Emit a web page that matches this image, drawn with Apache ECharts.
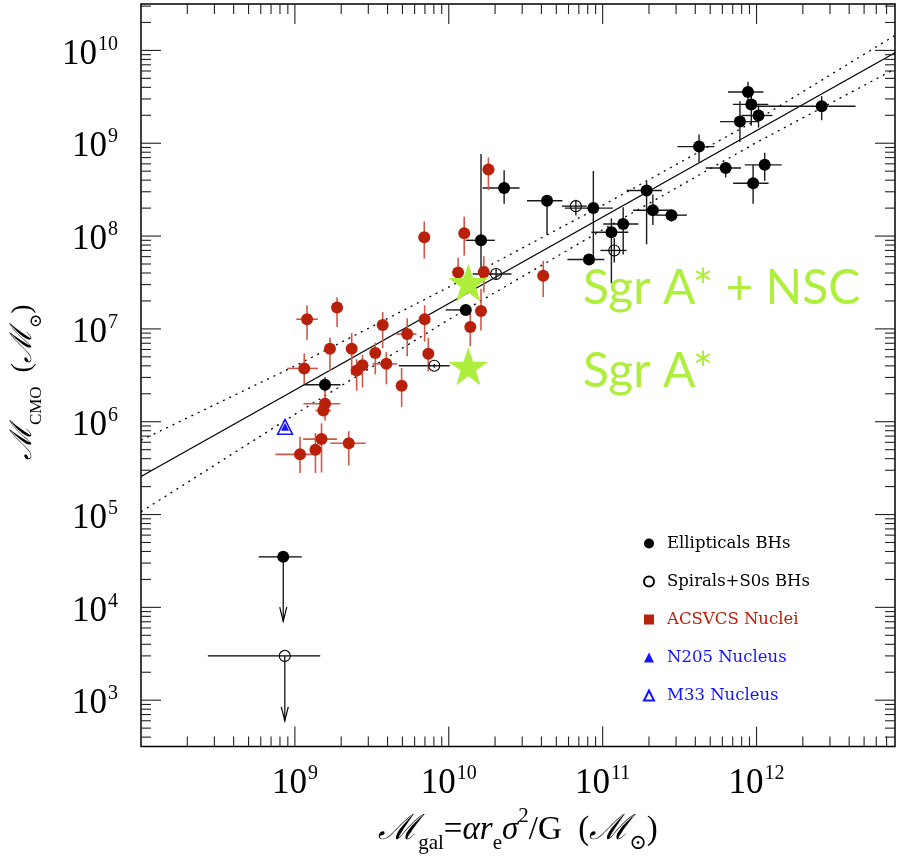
<!DOCTYPE html>
<html>
<head>
<meta charset="utf-8">
<script src="https://cdn.jsdelivr.net/npm/echarts@6/dist/echarts.min.js"></script>
<style>
  html, body { margin: 0; padding: 0; background: #fff; }
  #container { width: 907px; height: 859px; }
</style>
</head>
<body>
<div id="container"></div>
<script>
var dom = document.getElementById('container');
var myChart = echarts.init(dom, null, { renderer: 'canvas' });

// axis ranges (solar masses)
const xMin = 1e8, xMax = 7.94e12;
const yMin = 316.2, yMax = 3.162e10;

// [M_gal, M_CMO, dex errors: x low, x high, y low, y high]
const ellipticals = [
  [1.57e9, 2.5e6, 0.14, 0.10, 0.08, 0.08],
  [1.29e10, 1.6e7, 0.13, 0.0, 0.0, 0.0],
  [1.62e10, 9.0e7, 0.10, 0.09, 0.45, 0.93],
  [2.29e10, 3.3e8, 0.14, 0.10, 0.17, 0.19],
  [4.35e10, 2.4e8, 0.13, 0.10, 0.37, 0.02],
  [8.7e10, 2.0e8, 0.185, 0.127, 0.54, 0.40],
  [8.15e10, 5.6e7, 0.14, 0.10, 0.03, 0.03],
  [1.14e11, 1.1e8, 0.13, 0.11, 0.55, 0.15],
  [1.36e11, 1.35e8, 0.13, 0.10, 0.33, 0.18],
  [1.93e11, 3.1e8, 0.13, 0.10, 0.58, 0.09],
  [2.12e11, 1.9e8, 0.13, 0.11, 0.16, 0.17],
  [2.8e11, 1.68e8, 0.10, 0.10, 0.07, 0.05],
  [4.23e11, 9.2e8, 0.14, 0.10, 0.17, 0.13],
  [6.3e11, 5.4e8, 0.13, 0.10, 0.10, 0.06],
  [7.8e11, 1.71e9, 0.13, 0.12, 0.22, 0.22],
  [8.8e11, 3.56e9, 0.13, 0.10, 0.11, 0.11],
  [9.25e11, 2.62e9, 0.12, 0.11, 0.23, 0.14],
  [1.03e12, 1.99e9, 0.11, 0.09, 0.13, 0.11],
  [2.65e12, 2.5e9, 0.42, 0.22, 0.15, 0.11],
  [1.13e12, 5.85e8, 0.13, 0.11, 0.17, 0.13],
  [9.5e11, 3.7e8, 0.13, 0.10, 0.22, 0.20]
];
const spirals = [
  [6.7e10, 2.1e8, 0.09, 0.07, 0.10, 0.07],
  [1.19e11, 7.0e7, 0.09, 0.08, 0.13, 0.13],
  [2.03e10, 3.9e7, 0.14, 0.10, 0.06, 0.06],
  [8.05e9, 4.0e6, 0.23, 0.10, 0.02, 0.02]
];
// upper limits: [M_gal, M_CMO, dex x low, dex x high, arrow end]
const ellipticalLimits = [[8.4e8, 3.5e4, 0.16, 0.12, 7.1e3]];
const spiralLimits = [[8.6e8, 3.0e3, 0.50, 0.23, 600]];

const acsvcs = [
  [1.2e9, 1.27e7, 0.07, 0.07, 0.22, 0.15],
  [1.88e9, 1.7e7, 0.03, 0.03, 0.21, 0.11],
  [1.15e9, 3.75e6, 0.11, 0.09, 0.17, 0.16],
  [1.69e9, 6.1e6, 0.02, 0.02, 0.24, 0.12],
  [2.34e9, 6.1e6, 0.02, 0.02, 0.28, 0.17],
  [2.75e9, 4.06e6, 0.02, 0.02, 0.24, 0.11],
  [2.52e9, 3.57e6, 0.02, 0.02, 0.22, 0.12],
  [3.33e9, 5.5e6, 0.02, 0.02, 0.23, 0.11],
  [3.72e9, 1.1e7, 0.02, 0.02, 0.25, 0.14],
  [3.93e9, 4.2e6, 0.09, 0.07, 0.22, 0.13],
  [4.94e9, 2.44e6, 0.02, 0.02, 0.23, 0.19],
  [5.37e9, 8.8e6, 0.07, 0.06, 0.24, 0.17],
  [6.97e9, 1.27e7, 0.02, 0.02, 0.24, 0.15],
  [7.36e9, 5.4e6, 0.02, 0.02, 0.19, 0.17],
  [1.57e9, 1.56e6, 0.14, 0.10, 0.18, 0.18],
  [1.53e9, 1.32e6, 0.05, 0.05, 0.05, 0.05],
  [1.49e9, 6.5e5, 0.12, 0.10, 0.36, 0.17],
  [1.36e9, 4.98e5, 0.02, 0.02, 0.25, 0.18],
  [1.08e9, 4.45e5, 0.16, 0.11, 0.20, 0.19],
  [2.24e9, 5.86e5, 0.12, 0.11, 0.24, 0.13],
  [1.81e10, 5.2e8, 0.03, 0.04, 0.22, 0.13],
  [6.93e9, 9.7e7, 0.02, 0.02, 0.23, 0.17],
  [1.26e10, 1.07e8, 0.02, 0.02, 0.24, 0.18],
  [1.15e10, 4.05e7, 0.02, 0.02, 0.10, 0.16],
  [1.69e10, 4.1e7, 0.02, 0.02, 0.22, 0.17],
  [4.11e10, 3.73e7, 0.03, 0.03, 0.23, 0.16],
  [1.62e10, 1.56e7, 0.02, 0.02, 0.21, 0.24],
  [1.38e10, 1.05e7, 0.02, 0.02, 0.21, 0.16]
];
const n205 = [[8.63e8, 8.8e5]];
const m33 = [[8.63e8, 8.8e5]];
const sgrA = [[1.34e10, 3.97e6]];
const sgrANsc = [[1.34e10, 3.16e7]];

// fit and its band
const fitLine = [[1e8, 2.57e5], [7.94e12, 9.44e9]];
const bandUpper = [[1e8, 6.31e5], [1e9, 3.98e6], [1e10, 2.82e7], [1e11, 2.14e8], [1e12, 1.78e9], [7.94e12, 1.45e10]];
const bandLower = [[1e8, 1.07e5], [1e9, 1.2e6], [1e10, 1.26e7], [1e11, 1.17e8], [1e12, 1.02e9], [7.94e12, 6.31e9]];

const legendNames = ['Ellipticals BHs', 'Spirals+S0s BHs', 'ACSVCS Nuclei', 'N205 Nucleus', 'M33 Nucleus'];

const red = '#b8200a';
const blue = '#1414ff';
const lime = '#adef3c';
const serif = "'Liberation Serif', 'DejaVu Serif', serif";

function withBars(rows) {
  return rows.map(r => [r[0], r[1],
    r[0] / Math.pow(10, r[2]), r[0] * Math.pow(10, r[3]),
    r[1] / Math.pow(10, r[4]), r[1] * Math.pow(10, r[5])]);
}

function errRender(color, width) {
  return function (params, api) {
    const c = api.coord([api.value(0), api.value(1)]);
    const xl = api.coord([api.value(2), api.value(1)])[0];
    const xh = api.coord([api.value(3), api.value(1)])[0];
    const yl = api.coord([api.value(0), api.value(4)])[1];
    const yh = api.coord([api.value(0), api.value(5)])[1];
    const st = { stroke: color, lineWidth: width };
    return {
      type: 'group',
      children: [
        { type: 'line', shape: { x1: xl, y1: c[1], x2: xh, y2: c[1] }, style: st },
        { type: 'line', shape: { x1: c[0], y1: yl, x2: c[0], y2: yh }, style: st }
      ]
    };
  };
}

function limitRender(params, api) {
  const c = api.coord([api.value(0), api.value(1)]);
  const xl = api.coord([api.value(2), api.value(1)])[0];
  const xh = api.coord([api.value(3), api.value(1)])[0];
  const ye = api.coord([api.value(0), api.value(4)])[1];
  const st = { stroke: '#000', lineWidth: 1.2, fill: null };
  return {
    type: 'group',
    children: [
      { type: 'line', shape: { x1: xl, y1: c[1], x2: xh, y2: c[1] }, style: st },
      { type: 'line', shape: { x1: c[0], y1: c[1], x2: c[0], y2: ye }, style: st },
      { type: 'polyline', shape: { points: [[c[0] - 3.5, ye - 14], [c[0], ye], [c[0] + 3.5, ye - 14]] }, style: st }
    ]
  };
}

// tick marks on all four sides (log decades with 2..9 minors)
function logTicks(lo, hi) {
  const out = [];
  for (let d = Math.floor(Math.log10(lo)); d <= Math.ceil(Math.log10(hi)); d++) {
    for (let k = 1; k <= 9; k++) {
      const v = k * Math.pow(10, d);
      if (v > lo * 1.001 && v < hi * 0.999) out.push([v, k === 1 ? 1 : 0]);
    }
  }
  return out;
}
const xTicks = logTicks(xMin, xMax).map(t => [t[0], yMin, t[1]]);
const yTicks = logTicks(yMin, yMax).map(t => [xMin, t[0], t[1]]);

function tickRender(isX) {
  return function (params, api) {
    const cs = params.coordSys;
    const p = api.coord([api.value(0), api.value(1)]);
    const len = api.value(2) ? 20 : 10;
    const st = { stroke: '#222', lineWidth: 1.1 };
    if (isX) {
      return {
        type: 'group', children: [
          { type: 'line', shape: { x1: p[0], y1: cs.y + cs.height, x2: p[0], y2: cs.y + cs.height - len }, style: st },
          { type: 'line', shape: { x1: p[0], y1: cs.y, x2: p[0], y2: cs.y + len }, style: st }
        ]
      };
    }
    return {
      type: 'group', children: [
        { type: 'line', shape: { x1: cs.x, y1: p[1], x2: cs.x + len, y2: p[1] }, style: st },
        { type: 'line', shape: { x1: cs.x + cs.width, y1: p[1], x2: cs.x + cs.width - len, y2: p[1] }, style: st }
      ]
    };
  };
}

// labels only on whole decades strictly inside the frame
function powLabel(lo, hi) {
  return function (v) {
    if (v <= lo * 1.01 || v >= hi * 0.99) return '';
    const e = Math.log10(v);
    const r = Math.round(e);
    if (Math.abs(e - r) > 1e-3) return '';
    return '{b|10}{s|' + r + '}';
  };
}
const powRich = {
  b: { fontSize: 35, fontFamily: serif, color: '#000', lineHeight: 40 },
  s: { fontSize: 20, fontFamily: serif, color: '#000', verticalAlign: 'top', lineHeight: 22, padding: [0, 0, 0, 1] }
};

var option = {
  animation: false,
  backgroundColor: '#fff',
  grid: { left: 141, top: 4, width: 754, height: 754, show: true, borderColor: '#000', borderWidth: 1.5 },
  xAxis: {
    type: 'log', logBase: 10, min: xMin, max: xMax,
    splitLine: { show: false }, axisTick: { show: false }, axisLine: { show: false },
    axisLabel: { formatter: powLabel(xMin, xMax), rich: powRich, margin: 17, interval: 0 },
    name: '{m|ℳ}{sb|gal}{t|=}{i|αr}{sb|e}{i|σ}{sp|2}{t|/G  (}{m|ℳ}{sb|⊙}{t|)}',
    nameLocation: 'middle', nameGap: 54,
    nameTextStyle: {
      rich: {
        m: { fontSize: 35, fontFamily: "'DejaVu Serif', serif", fontStyle: 'italic', color: '#000', lineHeight: 48 },
        t: { fontSize: 33, fontFamily: serif, color: '#000', lineHeight: 48 },
        i: { fontSize: 33, fontFamily: serif, fontStyle: 'italic', color: '#000', lineHeight: 48 },
        sb: { fontSize: 21, fontFamily: serif, color: '#000', verticalAlign: 'bottom', lineHeight: 22 },
        sp: { fontSize: 21, fontFamily: serif, color: '#000', verticalAlign: 'top', lineHeight: 34 }
      }
    }
  },
  yAxis: {
    type: 'log', logBase: 10, min: yMin, max: yMax,
    splitLine: { show: false }, axisTick: { show: false }, axisLine: { show: false },
    axisLabel: { formatter: powLabel(yMin, yMax), rich: powRich, margin: 23, interval: 0, padding: [8, 0, 0, 0] },
    name: '{m|ℳ}{sb|CMO}{t|  (}{m|ℳ}{sb|⊙}{t|)}',
    nameLocation: 'middle', nameGap: 96, nameRotate: 90,
    nameTextStyle: {
      padding: [0, 14, 0, 0],
      rich: {
        m: { fontSize: 30, fontFamily: "'DejaVu Serif', serif", fontStyle: 'italic', color: '#000', lineHeight: 44 },
        t: { fontSize: 28, fontFamily: serif, color: '#000', lineHeight: 44 },
        sb: { fontSize: 17, fontFamily: serif, color: '#000', verticalAlign: 'bottom', lineHeight: 20 }
      }
    }
  },
  legend: {
    orient: 'vertical', left: 638, top: 530,
    itemWidth: 10, itemHeight: 10, itemGap: 21,
    textStyle: { fontFamily: 'DejaVu Serif', fontSize: 16.5, lineHeight: 16, padding: [0, 0, 0, 8], color: '#000' },
    data: [
      { name: legendNames[0], icon: 'circle', textStyle: { color: '#000' } },
      { name: legendNames[1], icon: 'circle', textStyle: { color: '#000' } },
      { name: legendNames[2], icon: 'rect', textStyle: { color: red } },
      { name: legendNames[3], icon: 'triangle', textStyle: { color: blue } },
      { name: legendNames[4], icon: 'triangle', textStyle: { color: blue } }
    ]
  },
  graphic: [
    { type: 'text', x: 583, y: 289, style: { text: 'Sgr A* + NSC', fill: lime, fontSize: 48, fontFamily: 'Lato', verticalAlign: 'middle' } },
    { type: 'text', x: 583, y: 372, style: { text: 'Sgr A*', fill: lime, fontSize: 48, fontFamily: 'Lato', verticalAlign: 'middle' } }
  ],
  series: [
    { type: 'custom', silent: true, z: 5, data: xTicks, renderItem: tickRender(true), encode: { x: 0, y: 1 } },
    { type: 'custom', silent: true, z: 5, data: yTicks, renderItem: tickRender(false), encode: { x: 0, y: 1 } },
    { type: 'line', data: fitLine, symbol: 'none', silent: true, z: 1, lineStyle: { color: '#000', width: 1.3 } },
    { type: 'line', data: bandUpper, symbol: 'none', silent: true, z: 1, lineStyle: { color: '#000', width: 1.3, type: [2, 5] } },
    { type: 'line', data: bandLower, symbol: 'none', silent: true, z: 1, lineStyle: { color: '#000', width: 1.3, type: [2, 5] } },
    { type: 'custom', silent: true, z: 2, data: withBars(ellipticals), renderItem: errRender('#1a1a1a', 1.4), encode: { x: 0, y: 1 } },
    { type: 'custom', silent: true, z: 2, data: withBars(spirals), renderItem: errRender('#1a1a1a', 1.4), encode: { x: 0, y: 1 } },
    { type: 'custom', silent: true, z: 2, data: withBars(acsvcs), renderItem: errRender('#d0584a', 1.6), encode: { x: 0, y: 1 } },
    { type: 'custom', silent: true, z: 2, data: ellipticalLimits.map(r => [r[0], r[1], r[0] / Math.pow(10, r[2]), r[0] * Math.pow(10, r[3]), r[4]]), renderItem: limitRender, encode: { x: 0, y: 1 } },
    { type: 'custom', silent: true, z: 2, data: spiralLimits.map(r => [r[0], r[1], r[0] / Math.pow(10, r[2]), r[0] * Math.pow(10, r[3]), r[4]]), renderItem: limitRender, encode: { x: 0, y: 1 } },
    {
      name: legendNames[0], type: 'scatter', z: 4, symbol: 'circle', symbolSize: 12,
      itemStyle: { color: '#000', opacity: 1 },
      data: ellipticals.map(r => [r[0], r[1]]).concat(ellipticalLimits.map(r => [r[0], r[1]]))
    },
    {
      name: legendNames[1], type: 'scatter', z: 4, symbol: 'circle', symbolSize: 11,
      itemStyle: { color: 'rgba(255,255,255,0)', borderColor: '#000', borderWidth: 1.1, opacity: 1 },
      data: spirals.map(r => [r[0], r[1]]).concat(spiralLimits.map(r => [r[0], r[1]]))
    },
    {
      name: legendNames[2], type: 'scatter', z: 3, symbol: 'circle', symbolSize: 12,
      itemStyle: { color: red, opacity: 1 },
      data: acsvcs.map(r => [r[0], r[1]])
    },
    {
      name: legendNames[4], type: 'scatter', z: 4, symbol: 'triangle', symbolSize: 15,
      itemStyle: { color: 'rgba(255,255,255,0)', borderColor: blue, borderWidth: 1.5, opacity: 1 },
      data: m33
    },
    {
      name: legendNames[3], type: 'scatter', z: 4, symbol: 'triangle', symbolSize: 8,
      itemStyle: { color: blue, opacity: 1 },
      data: n205
    },
    {
      type: 'scatter', z: 6, silent: true,
      symbol: 'path://M50,0 L61.8,35.1 L98.9,35.1 L68.8,56.7 L79.4,91.9 L50,70.6 L20.6,91.9 L31.2,56.7 L1.1,35.1 L38.2,35.1 Z',
      symbolSize: [40, 38], itemStyle: { color: lime, opacity: 1 },
      data: sgrANsc.concat(sgrA)
    }
  ]
};

myChart.setOption(option);
window.addEventListener('resize', myChart.resize);
</script>
</body>
</html>
